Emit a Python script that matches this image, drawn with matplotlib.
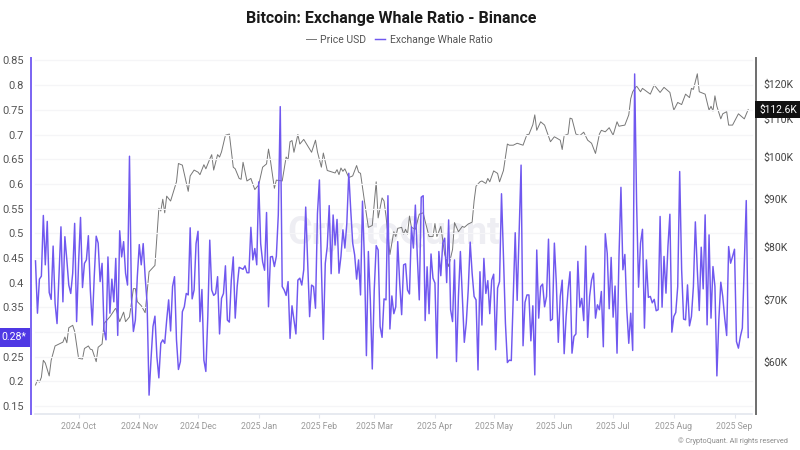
import numpy as np
import pandas as pd
import matplotlib
matplotlib.use("Agg")
import matplotlib.pyplot as plt
import matplotlib.dates as mdates
from matplotlib.ticker import FixedLocator, FixedFormatter

plt.rcParams['font.family'] = ['Roboto', 'DejaVu Sans']

TITLE = "Bitcoin: Exchange Whale Ratio - Binance"
START = "2024-09-09"
whale_ratio = [
 .444,.338,.407,.413,.536,.436,.524,.38,.366,.474,.358,.317,.415,.513,.361,.493,.446,.395,.378,.419,
 .52,.321,.44,.532,.39,.439,.446,.495,.385,.314,.412,.494,.48,.402,.439,.304,.284,.452,.338,.407,
 .361,.449,.293,.505,.452,.483,.419,.395,.656,.371,.301,.324,.412,.477,.436,.479,.412,.358,.172,.245,
 .311,.332,.25,.207,.277,.284,.277,.324,.365,.302,.392,.412,.284,.224,.24,.341,.351,.378,.375,.511,
 .367,.385,.479,.504,.321,.386,.243,.22,.331,.486,.385,.374,.378,.412,.296,.368,.378,.434,.324,.32,
 .405,.452,.328,.392,.431,.429,.427,.434,.42,.42,.512,.446,.469,.436,.604,.479,.442,.425,.542,.351,
 .452,.453,.4325,.453,.537,.7565,.392,.385,.374,.402,.287,.353,.324,.296,.405,.409,.395,.426,.553,.439,
 .331,.395,.392,.348,.54,.608,.4325,.285,.439,.473,.556,.418,.537,.476,.528,.419,.453,.507,.47,.52,
 .6215,.547,.48,.456,.407,.446,.375,.565,.446,.252,.463,.365,.225,.385,.475,.466,.311,.289,.367,.365,
 .576,.306,.373,.337,.351,.483,.399,.335,.436,.438,.385,.377,.513,.47,.557,.453,.365,.573,.576,.323,
 .432,.337,.458,.409,.399,.247,.463,.414,.48,.49,.40,.527,.345,.321,.446,.24,.372,.463,.372,.279,
 .318,.385,.482,.419,.372,.365,.223,.422,.314,.449,.378,.404,.337,.405,.417,.264,.389,.402,.58,.453,
 .318,.238,.243,.242,.37,.501,.364,.5,.638,.272,.36,.375,.375,.282,.353,.213,.466,.328,.392,.397,
 .351,.372,.488,.323,.326,.48,.399,.279,.372,.405,.256,.331,.385,.422,.257,.291,.296,.443,.35,.368,
 .323,.474,.289,.372,.405,.419,.328,.355,.345,.382,.27,.499,.459,.347,.451,.33,.393,.257,.453,.593,
 .426,.457,.345,.277,.338,.2625,.8227,.561,.3907,.48,.508,.3077,.446,.37,.372,.359,.366,.343,.345,.534,
 .3502,.453,.3786,.473,.5385,.2996,.3313,.3394,.392,.625,.426,.326,.3246,.3954,.3124,.3313,.392,.523,.426,.3435,
 .4717,.3873,.5372,.3144,.4967,.328,.4325,.392,.211,.3246,.4008,.3717,.328,.2928,.473,.4393,.4528,.4676,.2806,.2672,
 .2908,.3077,.4393,.5662,.2888]

price_days = [
 0,1,2,3,4,5,7,8,10,12,14,15,16,17,19,20,22,24,25,27,28,29,31,32,34,35,38,41,43,45,46,48,50,51,52,54,56,58,
 61,63,64,65,66,67,69,72,73,75,78,79,81,83,84,86,87,89,90,91,93,94,95,97,99,101,102,104,105,106,108,110,112,114,116,118,119,
 120,122,123,126,128,129,130,131,132,134,135,137,141,143,144,146,147,149,153,154,155,156,157,158,160,162,164,165,166,168,170,172,174,175,177,178,179,
 181,183,184,185,187,188,189,190,191,192,194,196,198,199,201,203,204,205,207,209,211,213,214,216,218,219,221,223,224,225,227,228,230,231,232,234,236,237,239,241,
 242,244,246,249,251,252,254,255,256,258,260,263,265,268,269,270,272,273,274,276,278,280,282,284,286,288,289,291,293,295,297,298,301,303,
 304,305,307,309,310,314,316,319,321,324,326,328,330,332,334,335,336,338,339,342,344,345,346,347,348,350,351,353,354,356,359,362,364]
price_usd_k = [
 56.6,57.3,57,57.7,60.2,59.8,57.9,60.2,62.4,62.7,63,63.8,62.9,65.3,65.7,64.7,60.5,60.4,62,62.4,61.9,61.8,60,62.2,62.7,66,67.1,68.6,66.3,67.9,66.3,67.1,72,72,69.7,69,67.8,75.1,
 76.3,88,87.4,90,87,90.7,89.6,94,98.4,98,91.8,95.4,96.8,96.3,95.7,98.1,97.1,99.5,100.6,96.8,100.6,100,101.3,105.6,105.9,97.5,97.1,94.8,94.6,98.7,94.2,94.8,92.2,93.3,97.5,98.3,102,
 99.1,92.5,94.4,94.2,100,99.3,103.9,104.2,101.2,105.8,103.3,104.5,101.2,104.3,101.3,97.5,101,96.7,96.1,96.9,95.7,97.3,96.5,97.1,95,95.4,97.9,96.3,96,89.6,83.9,84.3,94,85.9,90.3,89.6,86.3,
 78.4,83,82,83.7,83.9,82.5,83.5,82.5,86.3,83.9,83.5,86.7,87,85.2,82,82,84.7,82,84.1,78.4,76.1,79.4,84.9,83,84.1,83.9,84.6,85,89.6,93,94,94.2,93.6,94.8,94,96.6,96,94,96.7,103.3,
 103,103,103.5,103,105.8,105.8,108.4,111.1,106.9,109.2,108.3,103.9,105.2,104.3,101.9,105.5,105.9,110.2,110,105.9,105.5,106.4,104.3,103.5,100.9,105.9,106.9,106.5,107.6,105.6,109.2,108,108.3,111.1,
 115.7,117.7,119.4,117.7,118.7,117,119.7,117.5,119,117.5,112.4,114.6,114,117,116,118.7,118.4,123.1,117.7,117,112.4,113.5,112.2,116.5,113.5,110,111.4,112,108.3,108.3,111.4,110,112.6]

left_ticks = [0.15,0.2,0.25,0.3,0.35,0.4,0.45,0.5,0.55,0.6,0.65,0.7,0.75,0.8,0.85]
# the 0.3 label is hidden behind the current-value badge in the reference
left_labels = ["0.15","0.2","0.25","","0.35","0.4","0.45","0.5","0.55","0.6","0.65","0.7","0.75","0.8","0.85"]
right_ticks = [60,70,80,90,100,110,120]
right_labels = ["$60K","$70K","$80K","$90K","$100K","$110K","$120K"]

W, H = 800, 450
fig = plt.figure(figsize=(8, 4.5), dpi=100, facecolor="white")
x0, x1, ytop, ybot = 31, 755.7, 58, 414
ax = fig.add_axes([x0/W, 1-ybot/H, (x1-x0)/W, (ybot-ytop)/H])
ax2 = ax.twinx()

start = pd.Timestamp(START)
wd = [start + pd.Timedelta(days=i) for i in range(len(whale_ratio))]
pd_ = [start + pd.Timedelta(days=i) for i in price_days]

ax2.set_zorder(1)
ax.set_zorder(2)
ax.patch.set_visible(False)

px_day = 1.958
xl = mdates.date2num(start) - (35.5-x0)/px_day
xr = mdates.date2num(start) + (x1-35.5)/px_day

gf0 = (35-x0)/(x1-x0)
gf1 = (752-x0)/(x1-x0)
for t in left_ticks:
    ax.axhline(t, xmin=gf0, xmax=gf1, color="#f5f5f7", lw=0.9, zorder=0)

l1, = ax2.plot(pd_, price_usd_k, color="#777777", lw=0.7, label="Price USD", solid_joinstyle="round")
l2, = ax.plot(wd, whale_ratio, color="#7058ef", lw=1.05, label="Exchange Whale Ratio", solid_joinstyle="round")

ax.set_xlim(xl, xr)
ax.set_ylim(0.1338, 0.855)
ax2.set_yscale("log")
ax2.set_ylim(52.65, 128.05)

ax.xaxis.set_major_locator(mdates.MonthLocator())
ax.xaxis.set_major_formatter(mdates.DateFormatter("%Y %b"))
ax.tick_params(axis="x", length=3, width=0.8, color="#e3e6ee", labelsize=6.3, labelcolor="#9a9a9a", pad=3)

ax.yaxis.set_major_locator(FixedLocator(left_ticks))
ax.yaxis.set_major_formatter(FixedFormatter(left_labels))
ax.tick_params(axis="y", length=0, labelsize=8, labelcolor="#555555", pad=5)

ax2.yaxis.set_major_locator(FixedLocator(right_ticks))
ax2.yaxis.set_major_formatter(FixedFormatter(right_labels))
ax2.yaxis.set_minor_locator(FixedLocator([]))
ax2.tick_params(axis="y", which="both", length=0, labelsize=7.6, labelcolor="#444444", pad=5.3)

for a in (ax, ax2):
    for s in ("top", "bottom", "left", "right"):
        a.spines[s].set_visible(False)
ax.spines["left"].set_visible(True)
ax.spines["left"].set_color("#7a63f2")
ax.spines["left"].set_linewidth(1.4)
ax2.spines["right"].set_visible(True)
ax2.spines["right"].set_color("#6e6e6e")
ax2.spines["right"].set_linewidth(1.4)
ax.axhline(0.1338, xmin=gf0, xmax=gf1, color="#e3e6ee", lw=1.2, zorder=1, clip_on=False)

# watermark
fig.text(394/W, 1-233/H, "CryptoQuant", fontsize=27, color="#eeeef3", ha="center", va="center",
         fontweight="bold", zorder=0.5)

# current-value badges
ax.annotate("0.28*", xy=(0, whale_ratio[-1]), xycoords=("axes fraction", "data"), xytext=(-3.6, 0),
            textcoords="offset points", ha="right", va="center", fontsize=7.6, color="white", annotation_clip=False,
            bbox=dict(boxstyle="square,pad=0.42", fc="#4f38e4", ec="none"), zorder=10)
ax2.annotate("$112.6K", xy=(1, price_usd_k[-1]), xycoords=("axes fraction", "data"), xytext=(2.5, 0),
             textcoords="offset points", ha="left", va="center", fontsize=7.4, color="white", annotation_clip=False,
             bbox=dict(boxstyle="square,pad=0.36", fc="#111111", ec="none"), zorder=10)

fig.text(391/W, 1-18/H, TITLE, fontsize=11.5, fontweight="bold", color="#1a1a1a", ha="center", va="center")
fig.legend(handles=[l1, l2], labels=["Price USD", "Exchange Whale Ratio"], loc="center",
           bbox_to_anchor=(399/W, 1-40/H), ncol=2, frameon=False, fontsize=7.5, handlelength=1.0,
           handletextpad=0.4, columnspacing=0.85, labelcolor="#555555")
fig.text(788/W, 1-441/H, "© CryptoQuant. All rights reserved", fontsize=5.2, color="#8a8a8a", ha="right", va="center")

fig.savefig("out.png", dpi=100, facecolor="white")
